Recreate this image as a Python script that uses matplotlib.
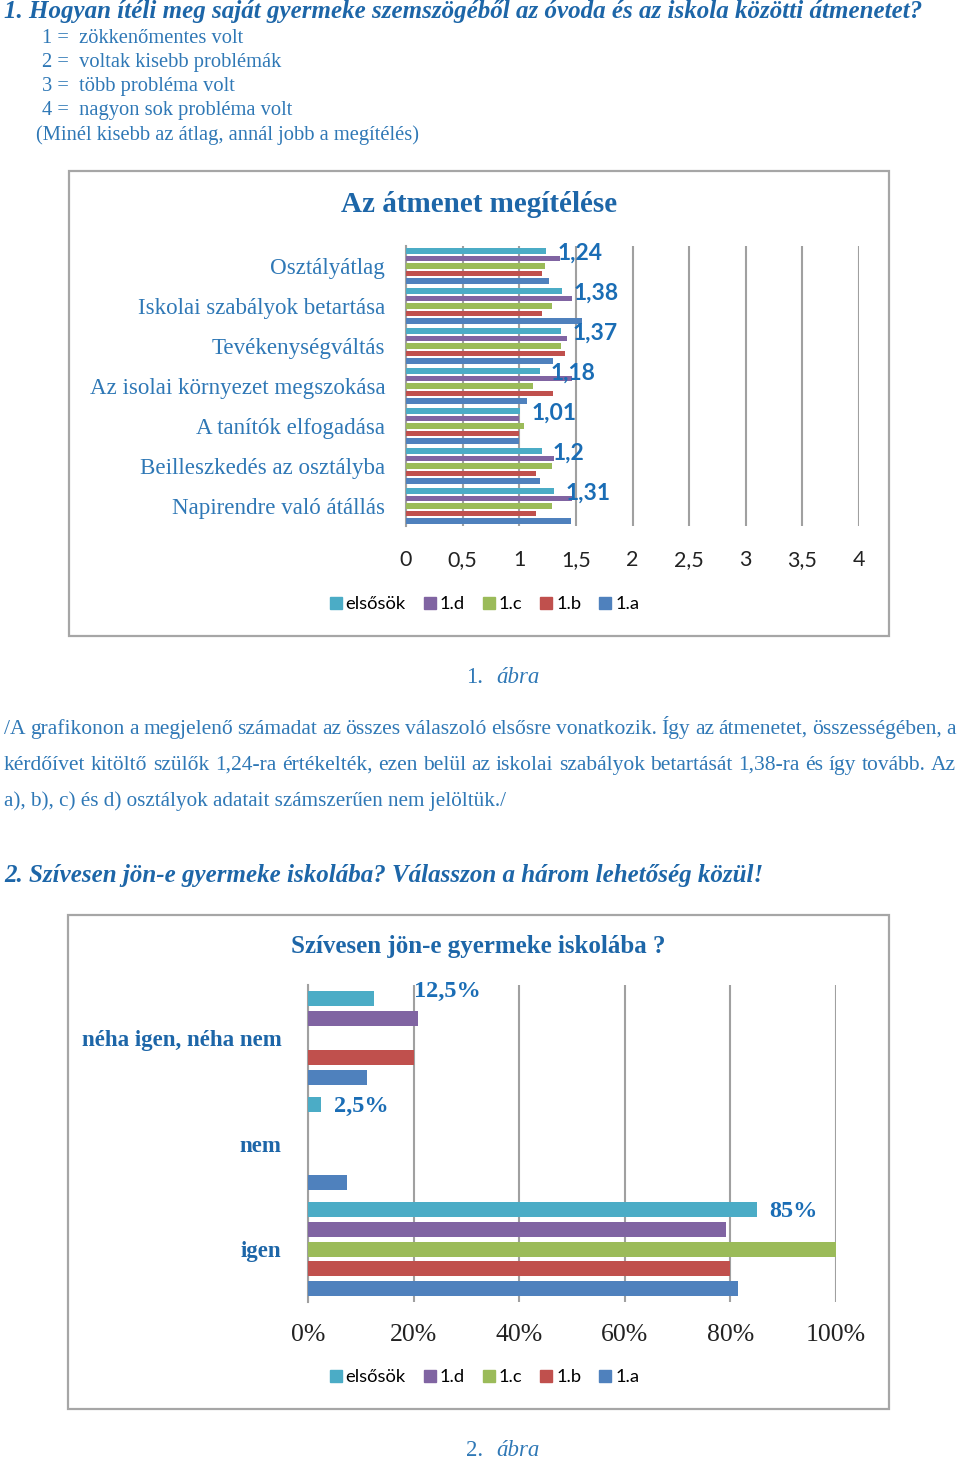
import matplotlib
matplotlib.use("Agg")
import matplotlib.pyplot as plt
from matplotlib.patches import Rectangle
from matplotlib.lines import Line2D

W, H = 960, 1463
DPI = 100

# ---------------- data ----------------
series = ["elsősök", "1.d", "1.c", "1.b", "1.a"]
colors = ["#4BACC6", "#8064A2", "#9BBB59", "#C0504D", "#4F81BD"]

cats1 = ["Osztályátlag", "Iskolai szabályok betartása", "Tevékenységváltás",
         "Az isolai környezet megszokása", "A tanítók elfogadása",
         "Beilleszkedés az osztályba", "Napirendre való átállás"]
v_elsosok = [1.24, 1.38, 1.37, 1.18, 1.01, 1.20, 1.31]
v_1d = [1.36, 1.47, 1.42, 1.47, 1.00, 1.31, 1.47]
v_1c = [1.23, 1.29, 1.37, 1.12, 1.04, 1.29, 1.29]
v_1b = [1.20, 1.20, 1.40, 1.30, 1.00, 1.15, 1.15]
v_1a = [1.26, 1.55, 1.30, 1.07, 1.00, 1.18, 1.46]
labels1 = ["1,24", "1,38", "1,37", "1,18", "1,01", "1,2", "1,31"]
ticks1 = [0, 0.5, 1, 1.5, 2, 2.5, 3, 3.5, 4]
ticklabels1 = ["0", "0,5", "1", "1,5", "2", "2,5", "3", "3,5", "4"]

cats2 = ["néha igen, néha nem", "nem", "igen"]
p_elsosok = [12.5, 2.5, 85.0]
p_1d = [20.8, 0.0, 79.2]
p_1c = [0.0, 0.0, 100.0]
p_1b = [20.0, 0.0, 80.0]
p_1a = [11.1, 7.4, 81.5]
labels2 = ["12,5%", "2,5%", "85%"]
ticks2 = [0, 20, 40, 60, 80, 100]
ticklabels2 = ["0%", "20%", "40%", "60%", "80%", "100%"]

# ---------------- style ----------------
TITLE_BLUE = "#1D66A8"
BODY_BLUE = "#2F78B6"
LABEL_BLUE = "#1A6DB5"
SERIF = ["Liberation Serif", "DejaVu Serif"]
SANS = ["Lato", "DejaVu Sans"]

fig = plt.figure(figsize=(W / DPI, H / DPI), dpi=DPI)
fig.patch.set_facecolor("white")


def fx(x):
    return x / W


def fy(y):
    return 1 - y / H


def ftext(x, y, s, **kw):
    kw.setdefault("family", SERIF)
    kw.setdefault("color", BODY_BLUE)
    kw.setdefault("va", "center")
    return fig.text(fx(x), fy(y), s, **kw)


def btext(x, y, s, **kw):
    # y given as visual centre of lowercase text; place on baseline
    kw["va"] = "baseline"
    return ftext(x, y + 5, s, **kw)


# ---------------- header text ----------------
btext(4, 13, "1. Hogyan ítéli meg saját gyermeke szemszögéből az óvoda és az iskola közötti átmenetet?",
      fontsize=18, weight="bold", style="italic", color=TITLE_BLUE)
scale_lines = ["1 =  zökkenőmentes volt", "2 =  voltak kisebb problémák",
               "3 =  több probléma volt", "4 =  nagyon sok probléma volt"]
for i, s in enumerate(scale_lines):
    btext(42, 38 + 24 * i, s, fontsize=14.8)
btext(36, 135, "(Minél kisebb az átlag, annál jobb a megítélés)", fontsize=14.8)

# ---------------- chart frames ----------------
for (x0, y0, x1, y1) in [(69, 171, 889, 636), (68, 915, 889, 1409)]:
    fig.patches.append(Rectangle((fx(x0), fy(y1)), fx(x1) - fx(x0), fy(y0) - fy(y1),
                                 transform=fig.transFigure, fill=False,
                                 edgecolor="#A6A6A6", lw=1.6))


def legend_at(xc, yc):
    handles = [Line2D([], [], marker="s", linestyle="none", markersize=8.5,
                      markerfacecolor=c, markeredgecolor=c) for c in colors]
    fig.legend(handles, series, loc="center", bbox_to_anchor=(fx(xc), fy(yc)),
               ncol=5, frameon=False, handletextpad=0.05, columnspacing=0.8,
               handlelength=1.0, prop={"family": SANS, "size": 13.2})


pitch = 0.186
bh = 0.144

# ---------------- chart 1 ----------------
ax1 = fig.add_axes([fx(406), fy(526), fx(859) - fx(406), fy(246) - fy(526)])
data1 = [v_elsosok, v_1d, v_1c, v_1b, v_1a]
n1 = len(cats1)
for i, vals in enumerate(data1):
    ys = [c - 2 * pitch + i * pitch for c in range(n1)]
    ax1.barh(ys, vals, height=bh, color=colors[i], zorder=3)
for c in range(n1):
    ax1.annotate(labels1[c], xy=(v_elsosok[c], c - 2 * pitch), xytext=(8, -1.5),
                 textcoords="offset points", ha="left", va="center",
                 family=SANS, weight="bold", fontsize=16.5, color=LABEL_BLUE, zorder=5)
ax1.set_xlim(0, 4)
ax1.set_ylim(n1 - 0.5, -0.5)
ax1.set_xticks(ticks1)
ax1.set_xticklabels(ticklabels1, family=SANS, fontsize=15.5, color="#222222")
ax1.set_yticks(range(n1))
ax1.set_yticklabels(cats1, family=SERIF, fontsize=16.6, color=BODY_BLUE)
ax1.tick_params(axis="x", length=0, pad=17)
ax1.tick_params(axis="y", length=0, pad=15)
ax1.grid(axis="x", color="#A0A0A0", lw=1.5, zorder=0)
for s in ["top", "right", "bottom"]:
    ax1.spines[s].set_visible(False)
ax1.spines["left"].set_color("#A0A0A0")
ax1.spines["left"].set_linewidth(1.5)
ftext(479, 204, "Az átmenet megítélése", fontsize=21, weight="bold",
      color=TITLE_BLUE, ha="center")
legend_at(483, 604)


# ---------------- caption + paragraph ----------------
def caption(y, num):
    btext(466, y, num, fontsize=16.5, ha="left")
    btext(496, y, "ábra", fontsize=16.5, style="italic", ha="left")


caption(678, "1.")

renderer = fig.canvas.get_renderer()


def justified(y, words, x0, x1, fontsize):
    texts = [btext(x0, y, w, fontsize=fontsize, ha="left") for w in words]
    widths = [t.get_window_extent(renderer).width for t in texts]
    gap = (x1 - x0 - sum(widths)) / (len(words) - 1)
    x = x0
    for t, w in zip(texts, widths):
        t.set_x(fx(x))
        x += w + gap


para1 = "/A grafikonon a megjelenő számadat az összes válaszoló elsősre vonatkozik. Így az átmenetet, összességében, a"
para2 = "kérdőívet kitöltő szülők 1,24-ra értékelték, ezen belül az iskolai szabályok betartását 1,38-ra és így tovább. Az"
para3 = "a), b), c) és d) osztályok adatait számszerűen nem jelöltük./"
justified(729, para1.split(" "), 4, 956, 15.5)
justified(765, para2.split(" "), 4, 956, 15.5)
btext(4, 801, para3, fontsize=15.2, ha="left")

btext(4, 877, "2. Szívesen jön-e gyermeke iskolába? Válasszon a három lehetőség közül!",
      fontsize=18, weight="bold", style="italic", color=TITLE_BLUE)

# ---------------- chart 2 ----------------
ax2 = fig.add_axes([fx(308), fy(1302), fx(836) - fx(308), fy(985) - fy(1302)])
data2 = [p_elsosok, p_1d, p_1c, p_1b, p_1a]
n2 = len(cats2)
for i, vals in enumerate(data2):
    ys = [c - 2 * pitch + i * pitch for c in range(n2)]
    ax2.barh(ys, vals, height=bh, color=colors[i], zorder=3)
offs2 = [(29, 5), (9, -1.5), (9, -1.5)]
for c in range(n2):
    ax2.annotate(labels2[c], xy=(p_elsosok[c], c - 2 * pitch), xytext=offs2[c],
                 textcoords="offset points", ha="left", va="center",
                 family=SERIF, weight="bold", fontsize=17.5, color=LABEL_BLUE, zorder=5)
ax2.set_xlim(0, 100)
ax2.set_ylim(n2 - 0.5, -0.5)
ax2.set_xticks(ticks2)
ax2.set_xticklabels(ticklabels2, family=SERIF, fontsize=18.5, color="#222222")
ax2.set_yticks(range(n2))
ax2.set_yticklabels(cats2, family=SERIF, fontsize=16.5, weight="bold", color=TITLE_BLUE)
ax2.tick_params(axis="x", length=0, pad=16)
ax2.tick_params(axis="y", length=0, pad=19)
ax2.grid(axis="x", color="#A0A0A0", lw=1.5, zorder=0)
for s in ["top", "right", "bottom"]:
    ax2.spines[s].set_visible(False)
ax2.spines["left"].set_color("#A0A0A0")
ax2.spines["left"].set_linewidth(1.5)
ftext(478, 946, "Szívesen jön-e gyermeke iskolába ?", fontsize=18, weight="bold",
      color=TITLE_BLUE, ha="center")
legend_at(483, 1377)
caption(1451, "2.")

fig.savefig("out.png", dpi=DPI)
